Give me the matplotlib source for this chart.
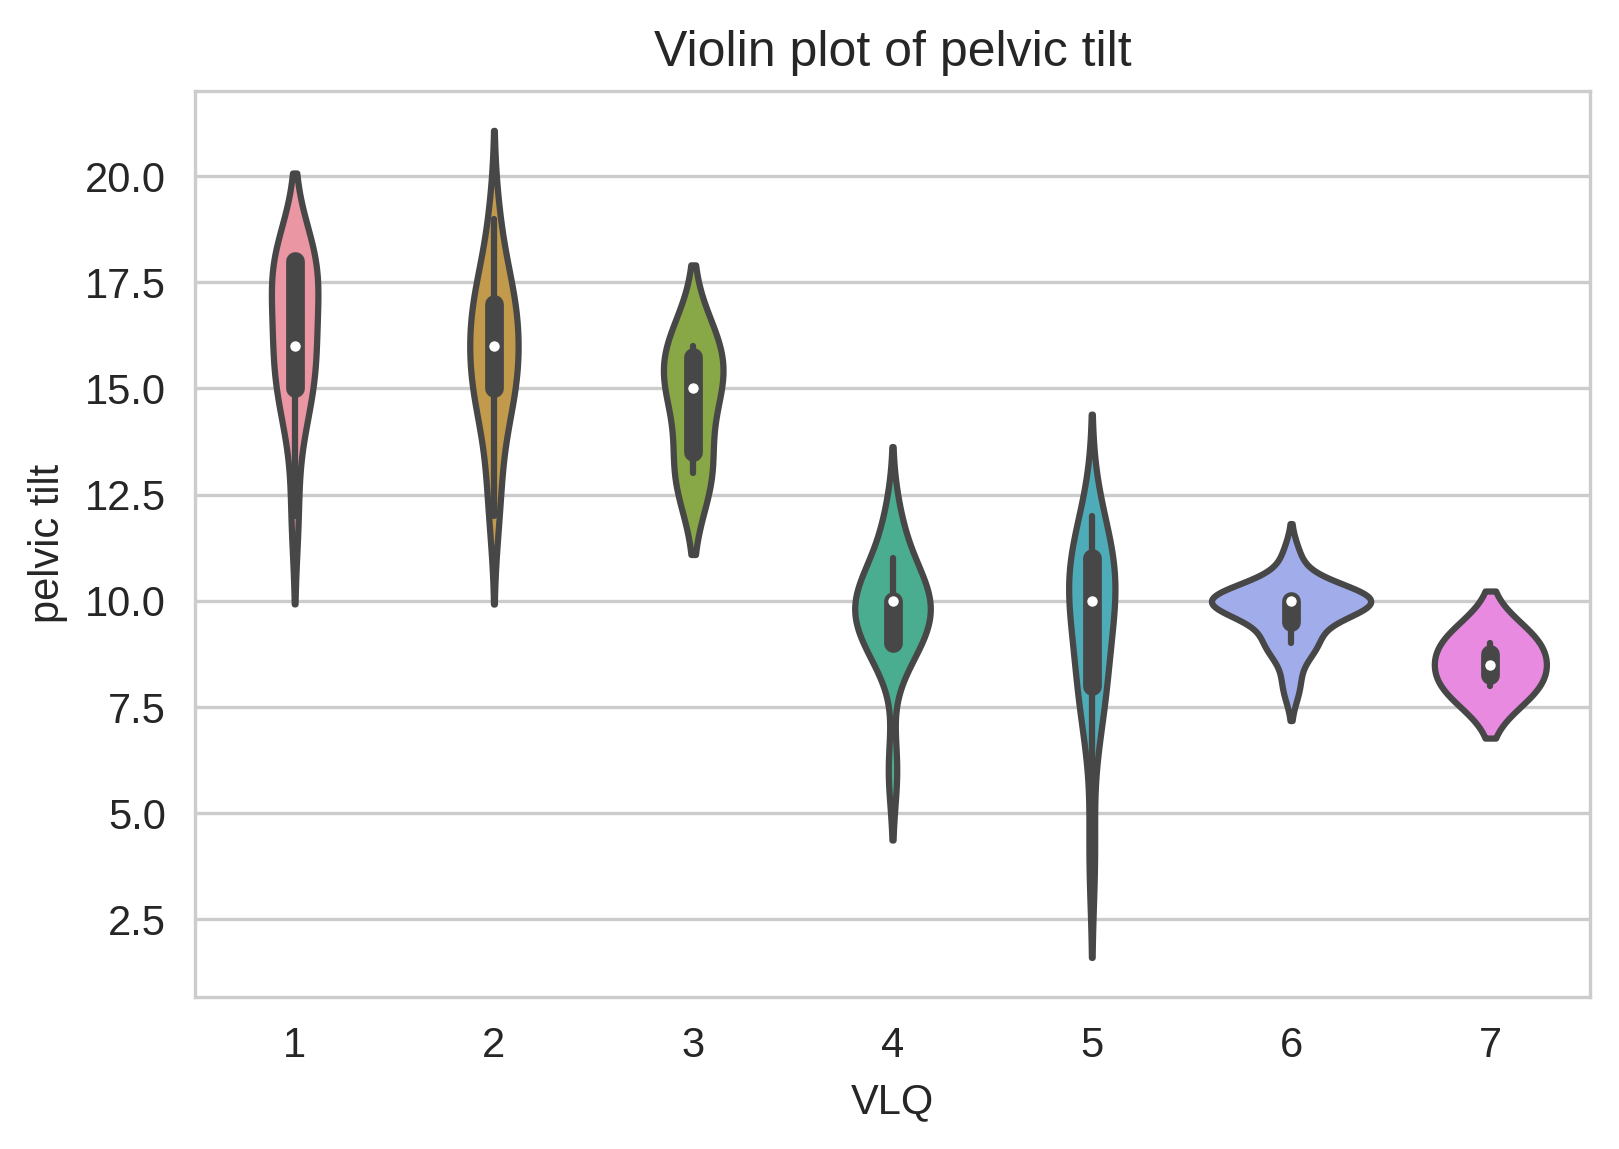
import colorsys
import numpy as np
import matplotlib
matplotlib.use("Agg")
import matplotlib.pyplot as plt
import seaborn as sns

# ---------------- data ----------------
categories = ["1", "2", "3", "4", "5", "6", "7"]
vlq1 = [12, 14, 15, 15, 15, 16, 16, 16, 17, 17, 18, 18, 18, 18, 18]
vlq2 = [12, 13, 14, 15, 15, 15, 15, 16, 16, 16, 17, 17, 17, 17, 18, 19]
vlq3 = [13, 13, 15, 15, 16, 16]
vlq4 = [6, 9, 9, 9, 9, 10, 10, 10, 10, 10, 10, 11, 11, 12]
vlq5 = [4, 7, 8, 8, 8, 9, 10, 10, 10, 10, 11, 11, 11, 11, 12]
vlq6 = [8, 9, 9, 9, 10, 10, 10, 10, 10, 10, 10, 10, 10, 10, 11]
vlq7 = [8, 9]
groups = [vlq1, vlq2, vlq3, vlq4, vlq5, vlq6, vlq7]

title = "Violin plot of pelvic tilt"
xlabel = "VLQ"
ylabel = "pelvic tilt"

# ---------------- style ----------------
sns.set_style("whitegrid")
plt.rcParams["font.family"] = ["Liberation Sans", "DejaVu Sans"]

W, H, DPI = 1619, 1149, 300
fig = plt.figure(figsize=(W / DPI, H / DPI), dpi=DPI)
left, right, top, bottom = 195, 1590, 90.7, 996.7
ax = fig.add_axes([left / W, 1 - bottom / H, (right - left) / W, (bottom - top) / H])

# colours like the old seaborn categorical default (husl, desaturated)
base = sns.husl_palette(len(categories), l=.7)
colors = [sns.desaturate(c, .75) for c in base]
lum = min(colorsys.rgb_to_hls(*c)[1] for c in colors) * .6
gray = (lum, lum, lum)

lw = 1.5
cut = 2
gridsize = 100
dwidth = 0.8 / 2


def kde(data):
    data = np.asarray(data, float)
    n = len(data)
    bw = n ** (-1 / 5) * data.std(ddof=1)
    support = np.linspace(data.min() - cut * bw, data.max() + cut * bw, gridsize)
    z = (support[:, None] - data[None, :]) / bw
    dens = np.exp(-0.5 * z ** 2).sum(axis=1) / (n * bw * np.sqrt(2 * np.pi))
    return support, dens


kdes = [kde(g) for g in groups]
max_density = max(d.max() for _, d in kdes)

for i, (g, (support, dens)) in enumerate(zip(groups, kdes)):
    d = dens / max_density
    ax.fill_betweenx(support, i - d * dwidth, i + d * dwidth,
                     facecolor=colors[i], edgecolor=gray, linewidth=lw)
    arr = np.asarray(g, float)
    q25, q50, q75 = np.percentile(arr, [25, 50, 75])
    wl = 1.5 * (q75 - q25)
    h1 = arr[arr >= q25 - wl].min()
    h2 = arr[arr <= q75 + wl].max()
    ax.plot([i, i], [h1, h2], linewidth=lw, color=gray, solid_capstyle="round")
    ax.plot([i, i], [q25, q75], linewidth=lw * 3, color=gray, solid_capstyle="round")
    ax.scatter(i, q50, zorder=3, color="white", edgecolor=gray,
               s=np.square(lw * 2), linewidth=0.5)

ax.set_xticks(range(len(categories)))
ax.set_xticklabels(categories)
ax.set_xlim(-0.5, len(categories) - 0.5)
ax.set_ylim(0.68, 22.01)
ax.set_yticks([2.5, 5.0, 7.5, 10.0, 12.5, 15.0, 17.5, 20.0])
ax.set_yticklabels(["2.5", "5.0", "7.5", "10.0", "12.5", "15.0", "17.5", "20.0"])
ax.xaxis.grid(False)
ax.set_xlabel(xlabel, fontsize=10)
ax.set_ylabel(ylabel, fontsize=10)
ax.set_title(title, fontsize=12)

fig.savefig("out.png", dpi=DPI)
